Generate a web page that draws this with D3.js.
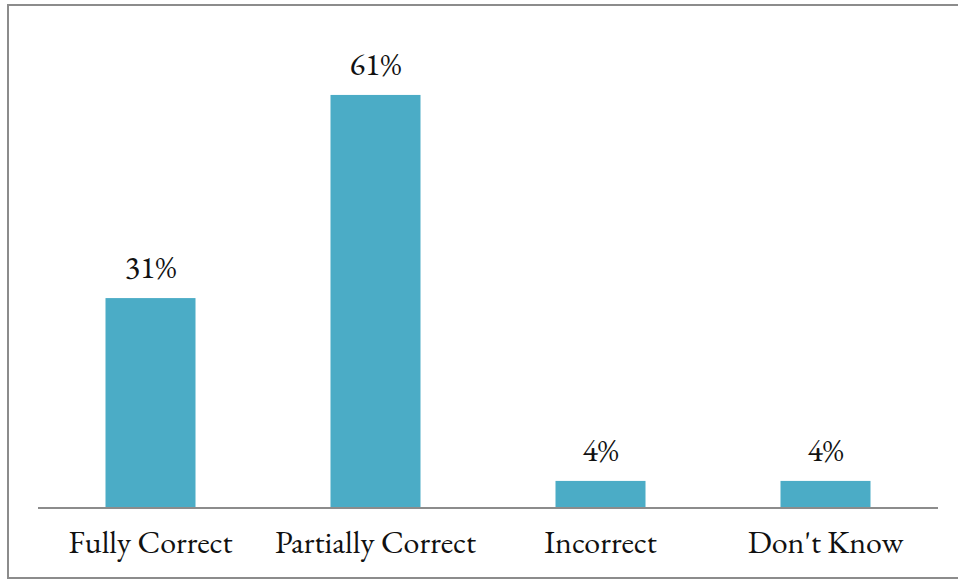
<!DOCTYPE html>
<html>
<head>
<meta charset="utf-8">
<script src="https://cdn.jsdelivr.net/npm/d3@7/dist/d3.min.js"></script>
<style>
  html, body { margin: 0; padding: 0; background: #fff; }
  svg { display: block; }
  text { font-family: "EB Garamond", Garamond, "Liberation Serif", "DejaVu Serif", serif; fill: #111; }
</style>
</head>
<body>
<svg id="chart" width="958" height="580"></svg>
<script>
// Answer categories and their shares (percent)
const categories = ["Fully Correct", "Partially Correct", "Incorrect", "Don't Know"];
const values = [31, 61, 4, 4];
const valueLabels = ["31%", "61%", "4%", "4%"];

const svg = d3.select("#chart");

// Outer frame
svg.append("rect")
  .attr("x", 8).attr("y", 5)
  .attr("width", 970).attr("height", 573)
  .attr("fill", "none")
  .attr("stroke", "#8c8c8c")
  .attr("stroke-width", 2);

const plot = { left: 38, right: 938, top: 34, bottom: 508 };

const x = d3.scaleBand()
  .domain(categories)
  .range([plot.left, plot.right])
  .paddingInner(0.6)
  .paddingOuter(0.3);

const y = d3.scaleLinear()
  .domain([0, 70])
  .range([plot.bottom, plot.top]);

// Bars
svg.append("g").selectAll("rect")
  .data(values)
  .join("rect")
  .attr("x", (d, i) => x(categories[i]))
  .attr("y", d => y(d))
  .attr("width", x.bandwidth())
  .attr("height", d => y(0) - y(d))
  .attr("fill", "#4bacc6");

// Value labels above bars
svg.append("g").selectAll("text")
  .data(values)
  .join("text")
  .attr("x", (d, i) => x(categories[i]) + x.bandwidth() / 2)
  .attr("y", d => y(d) - 20)
  .attr("text-anchor", "middle")
  .attr("font-size", 32)
  .text((d, i) => valueLabels[i]);

// Category axis along the baseline
const axis = svg.append("g")
  .attr("transform", `translate(0,${plot.bottom})`)
  .call(d3.axisBottom(x).tickSize(0).tickPadding(0));
axis.select(".domain")
  .attr("stroke", "#8c8c8c")
  .attr("stroke-width", 2)
  .attr("d", `M${plot.left},0H${plot.right}`);
axis.selectAll(".tick text")
  .attr("dy", null)
  .attr("y", 45)
  .attr("font-size", 32)
  .attr("font-family", "\"EB Garamond\", Garamond, \"Liberation Serif\", serif")
  .attr("fill", "#111");
</script>
</body>
</html>
